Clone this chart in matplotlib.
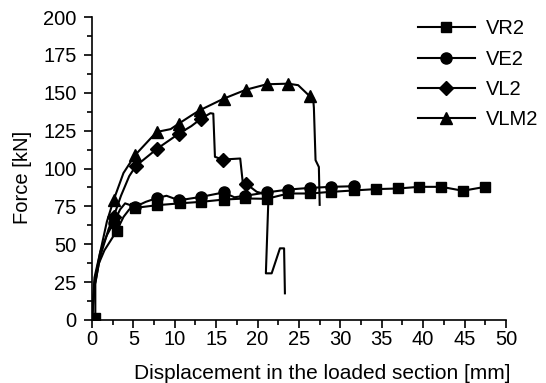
#!/usr/bin/env python3
# Force vs displacement curves for the four specimens (VR2, VE2, VL2, VLM2)

import matplotlib
matplotlib.use("Agg")
import matplotlib.pyplot as plt
from matplotlib.ticker import MultipleLocator

plt.rcParams["font.family"] = ["Liberation Sans", "DejaVu Sans"]
plt.rcParams["font.size"] = 14.5

# displacement [mm] / force [kN]
vr2_x = [0, 0.4, 0.4, 0.8, 1.5, 2.2, 3.0, 3.8, 4.5, 5.2, 7.9, 10.6, 13.2, 15.9, 18.5,
         21.1, 23.7, 26.3, 28.9, 31.6, 34.3, 37.0, 39.5, 42.2, 44.8, 47.5]
vr2_y = [0, 1, 24, 37, 46, 52, 59, 68, 73, 74, 75.8, 77, 78, 79.5, 80.2,
         80, 83.5, 83.5, 84.6, 85.5, 86.4, 86.8, 87.9, 87.9, 85.3, 87.9]
vr2_marks = [1, 6, 9, 10, 11, 12, 13, 14, 15, 16, 17, 18, 19, 20, 21, 22, 23, 24, 25]

ve2_x = [0, 0.3, 1.0, 1.8, 2.6, 3.4, 4.0, 5.2, 6.5, 7.9, 9.0, 10.5, 13.2, 15.9, 17.2,
         18.5, 21.1, 23.7, 26.3, 28.9, 31.6]
ve2_y = [0, 28, 45, 56, 64, 73, 77, 74.7, 78, 80.6, 82, 79, 81.3, 84.2, 81,
         82, 84.2, 86.1, 87.2, 87.9, 88.3]
ve2_marks = [4, 7, 9, 11, 12, 13, 15, 16, 17, 18, 19, 20]

vl2_x = [0, 0.3, 1.0, 2.0, 2.6, 3.5, 4.5, 5.3, 7.9, 10.5, 12.0, 13.2, 14.3, 14.65,
         14.85, 15.8, 17.9, 18.2, 18.6, 19.9, 21.0, 21.3, 21.0, 21.7, 22.7, 23.2, 23.3]
vl2_y = [0, 22, 42, 60, 68, 82, 95, 101.7, 113.2, 123, 128, 133, 136.5, 136.2,
         107.7, 105.9, 106.6, 91.2, 90, 84.6, 83, 79, 30.8, 30.8, 47.3, 47.3, 17.6]
vl2_marks = [4, 7, 8, 9, 11, 15, 18]

vlm2_x = [0, 0.3, 1.0, 1.8, 2.6, 3.8, 5.2, 7.8, 9.5, 10.5, 12.0, 13.0, 15.9, 18.6,
          21.1, 23.7, 24.9, 26.3, 26.7, 26.8, 27.0, 27.4, 27.5]
vlm2_y = [0, 25, 45, 65, 79, 97, 108.8, 124.1, 126, 129.7, 135, 138.4, 146.1, 152,
          155.6, 156, 155, 147.7, 147, 140, 105.5, 101, 76]
vlm2_marks = [4, 6, 7, 9, 11, 12, 13, 14, 15, 17]

names = ["VR2", "VE2", "VL2", "VLM2"]

fig = plt.figure(figsize=(5.46, 3.83), dpi=100)
ax = fig.add_axes([0.1685, 0.1645, 0.7582, 0.7911])

series = [(vr2_x, vr2_y, vr2_marks, "s", 7.5),
          (ve2_x, ve2_y, ve2_marks, "o", 8),
          (vl2_x, vl2_y, vl2_marks, "D", 7),
          (vlm2_x, vlm2_y, vlm2_marks, "^", 8.5)]
for (x, y, marks, m, ms), name in zip(series, names):
    ax.plot(x, y, color="black", lw=1.5, marker=m, ms=ms, markevery=marks, label=name)

ax.set_xlim(0, 50)
ax.set_ylim(0, 200)
ax.xaxis.set_major_locator(MultipleLocator(5))
ax.xaxis.set_minor_locator(MultipleLocator(2.5))
ax.yaxis.set_major_locator(MultipleLocator(25))
ax.yaxis.set_minor_locator(MultipleLocator(12.5))
ax.tick_params(which="major", direction="out", length=5.5, width=1.2)
ax.tick_params(which="minor", direction="out", length=3.8, width=1.2)
ax.tick_params(axis="x", which="major", pad=2)
ax.tick_params(axis="y", which="major", pad=5.5)
ax.spines["top"].set_visible(False)
ax.spines["right"].set_visible(False)
ax.spines["left"].set_linewidth(1.2)
ax.spines["bottom"].set_linewidth(1.2)

ax.set_xlabel("Displacement in the loaded section [mm]", ha="right", fontsize=15)
ax.xaxis.set_label_coords(1.01, -0.145)
ax.set_ylabel("Force [kN]")
ax.yaxis.set_label_coords(-0.145, 0.469)

ax.legend(loc="upper left", bbox_to_anchor=(0.762, 1.025), frameon=False,
          handlelength=2.83, handletextpad=0.55, labelspacing=0.55, borderpad=0)

fig.savefig("out.png", dpi=100)
print("saved out.png")
